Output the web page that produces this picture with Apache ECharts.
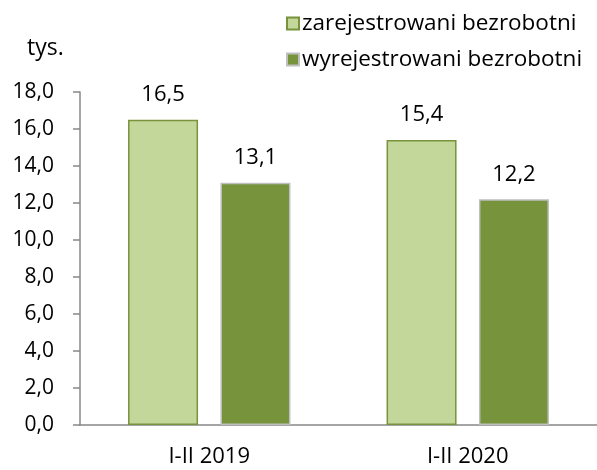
<!DOCTYPE html>
<html>
<head>
<meta charset="UTF-8">
<script src="https://cdn.jsdelivr.net/npm/echarts@6/dist/echarts.min.js"></script>
<style>
  body { margin: 0; background: #fff; }
  #chart { width: 597px; height: 470px; }
</style>
</head>
<body>
<div id="chart"></div>
<script>
// data
const categories = ['I-II 2019', 'I-II 2020']
const registered = [16.5, 15.4]
const deregistered = [13.1, 12.2]
const seriesNames = ['zarejestrowani bezrobotni', 'wyrejestrowani bezrobotni']

const FONT = 'Open Sans'
const fmt = v => v.toFixed(1).replace('.', ',')

const chart = echarts.init(document.getElementById('chart'))
chart.setOption({
  animation: false,
  textStyle: { fontFamily: FONT, color: '#000' },
  grid: { left: 80, top: 92, width: 522, height: 333, containLabel: false },
  legend: {
    orient: 'vertical',
    left: 281,
    top: 7,
    itemWidth: 12,
    itemHeight: 12,
    itemGap: 13,
    icon: 'rect',
    textStyle: { fontFamily: FONT, fontSize: 22.5, color: '#000', padding: [0, 0, 0, -2] },
    data: seriesNames
  },
  graphic: [{
    type: 'text',
    left: 27,
    top: 37,
    style: { text: 'tys.', font: '23px "Open Sans"', fill: '#000' }
  }],
  xAxis: {
    type: 'category',
    data: categories,
    axisLine: { lineStyle: { color: '#888', width: 1.5 } },
    axisTick: { length: 6, lineStyle: { color: '#888', width: 1.5 } },
    axisLabel: { fontSize: 22, color: '#000', margin: 21 }
  },
  yAxis: {
    type: 'value',
    min: 0,
    max: 18,
    interval: 2,
    splitLine: { show: false },
    axisLine: { show: true, lineStyle: { color: '#888', width: 1.5 } },
    axisTick: { show: true, length: 7, lineStyle: { color: '#888', width: 1.5 } },
    axisLabel: { fontSize: 21, color: '#000', margin: 26, formatter: fmt }
  },
  series: [
    {
      name: seriesNames[0],
      type: 'bar',
      data: registered,
      barWidth: 70,
      barGap: '32%',
      itemStyle: { color: '#c4d79b', borderColor: '#77933c', borderWidth: 1.5 },
      label: { show: true, position: 'top', distance: 14, fontSize: 22, color: '#000', formatter: p => fmt(p.value) }
    },
    {
      name: seriesNames[1],
      type: 'bar',
      data: deregistered,
      barWidth: 70,
      itemStyle: { color: '#77933c', borderColor: '#bfbfbf', borderWidth: 1.5 },
      label: { show: true, position: 'top', distance: 14, fontSize: 22, color: '#000', formatter: p => fmt(p.value) }
    }
  ]
})
</script>
</body>
</html>
